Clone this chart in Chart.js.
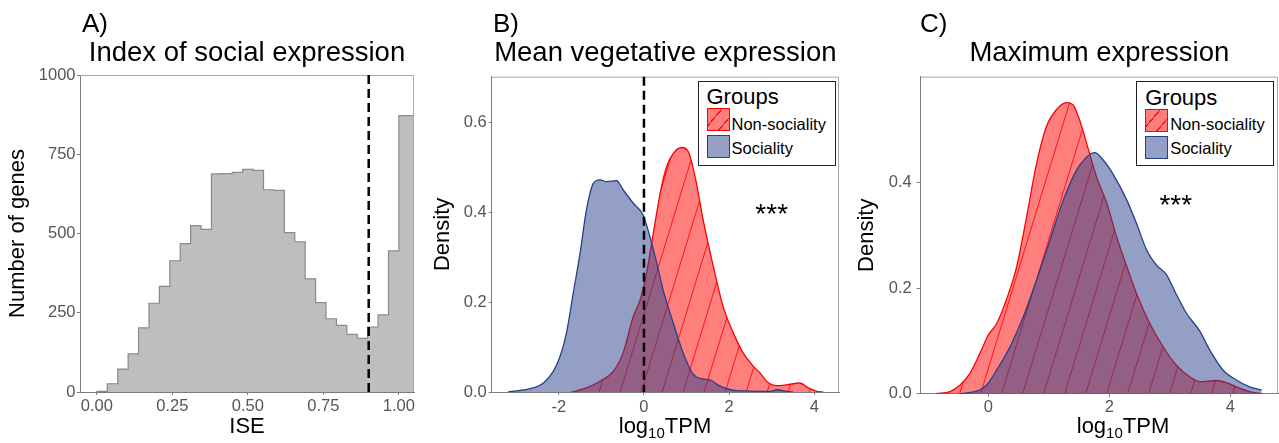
<!DOCTYPE html>
<html><head><meta charset="utf-8">
<script src="https://cdn.jsdelivr.net/npm/chart.js@4.4.1/dist/chart.umd.min.js"></script>
<style>
html,body{margin:0;padding:0;background:#fff;overflow:hidden;width:1279px;height:443px;}
body{position:relative;font-family:'Liberation Sans',Arial,Helvetica,sans-serif;}
canvas{position:absolute;top:0;}
.t{position:absolute;line-height:1;white-space:nowrap;color:#000;}
.box{position:absolute;border:1.5px solid #222;background:#fff;box-sizing:border-box;}
.sw{position:absolute;box-sizing:border-box;}
.swr{border:1px solid #ff0000;background:repeating-linear-gradient(130deg, rgba(255,0,0,0.5) 0px, rgba(255,0,0,0.5) 10px, rgba(255,0,0,0.95) 10px, rgba(255,0,0,0.95) 11.2px);}
.swb{border:1px solid #27408B;background:rgba(39,64,139,0.5);}
</style></head><body>
<canvas id="cA" width="420" height="443" style="left:0px"></canvas>
<canvas id="cB" width="420" height="443" style="left:425px"></canvas>
<canvas id="cC" width="431" height="443" style="left:849px"></canvas>

<div class="t" style="left:82px;top:10px;font-size:26px">A)</div>
<div class="t" style="left:493px;top:10px;font-size:26px">B)</div>
<div class="t" style="left:920px;top:10px;font-size:26px">C)</div>

<div class="t" style="left:565px;top:414.9px;width:200px;text-align:center;font-size:22px;line-height:22px">log<span style="font-size:15px;position:relative;top:5px">10</span>TPM</div>
<div class="t" style="left:1023px;top:414.9px;width:200px;text-align:center;font-size:22px;line-height:22px">log<span style="font-size:15px;position:relative;top:5px">10</span>TPM</div>

<div class="box" style="left:697.5px;top:80.5px;width:138px;height:85px"></div>
<div class="t" style="left:706.5px;top:86.4px;font-size:22px">Groups</div>
<div class="sw swr" style="left:706.5px;top:108px;width:23px;height:23px"></div>
<div class="sw swb" style="left:706.5px;top:135px;width:23px;height:23px"></div>
<div class="t" style="left:731.5px;top:115.5px;font-size:16.5px">Non-sociality</div>
<div class="t" style="left:731.5px;top:139.5px;font-size:16.5px">Sociality</div>

<div class="box" style="left:1136.2px;top:81.2px;width:138px;height:85px"></div>
<div class="t" style="left:1145.2px;top:87.1px;font-size:22px">Groups</div>
<div class="sw swr" style="left:1145.2px;top:108.7px;width:23px;height:23px"></div>
<div class="sw swb" style="left:1145.2px;top:135.7px;width:23px;height:23px"></div>
<div class="t" style="left:1170.2px;top:116.2px;font-size:16.5px">Non-sociality</div>
<div class="t" style="left:1170.2px;top:140.2px;font-size:16.5px">Sociality</div>

<script>
// ---------- DATA ----------
// Panel A: histogram of ISE
const iseBinEdges = [0, 0.0345, 0.069, 0.1034, 0.1379, 0.1724, 0.2069, 0.2414, 0.2759, 0.3103,
  0.3448, 0.3793, 0.4138, 0.4483, 0.4828, 0.5172, 0.5517, 0.5862, 0.6207, 0.6552,
  0.6897, 0.7241, 0.7586, 0.7931, 0.8276, 0.8621, 0.8966, 0.931, 0.9655, 1.0, 1.05];
const iseCounts = [2, 26, 72, 120, 202, 280, 333, 414, 468, 525,
  513, 688, 689, 693, 702, 699, 638, 636, 503, 474,
  357, 282, 231, 210, 182, 169, 205, 243, 445, 872];
const iseThreshold = 0.9;
const ticksAx = [0, 0.25, 0.5, 0.75, 1.0];
const labelsAx = ['0.00', '0.25', '0.50', '0.75', '1.00'];
const ticksAy = [0, 250, 500, 750, 1000];
const labelsAy = ['0', '250', '500', '750', '1000'];

// Panel B: mean vegetative expression densities
const groups = ['Non-sociality', 'Sociality'];
const bNonSocX = [-1.7, -1.35, -1.03, -0.72, -0.49, -0.25, -0.09, 0.06, 0.22, 0.38, 0.53, 0.69, 0.88, 1.04, 1.2, 1.39, 1.63, 1.86, 2.1, 2.33, 2.57, 2.73, 2.88, 3.12, 3.35, 3.66, 3.86, 4.06, 4.21];
const bNonSocY = [0, 0.009, 0.024, 0.046, 0.087, 0.168, 0.205, 0.264, 0.353, 0.442, 0.501, 0.531, 0.544, 0.535, 0.479, 0.383, 0.279, 0.19, 0.131, 0.087, 0.057, 0.042, 0.024, 0.014, 0.016, 0.02, 0.009, 0.0015, 0];
const bSocX = [-3.19, -2.6, -2.36, -2.13, -1.97, -1.82, -1.66, -1.5, -1.35, -1.19, -1.03, -0.88, -0.64, -0.49, -0.25, -0.02, 0.14, 0.3, 0.45, 0.69, 0.92, 1.16, 1.39, 1.55, 1.79, 2.18, 2.96, 3.12, 3.35, 3.5];
const bSocY = [0, 0.009, 0.02, 0.046, 0.079, 0.131, 0.22, 0.309, 0.405, 0.464, 0.472, 0.468, 0.47, 0.45, 0.42, 0.394, 0.346, 0.287, 0.227, 0.153, 0.087, 0.039, 0.029, 0.027, 0.013, 0.003, 0.0015, 0.005, 0.0015, 0];
const ticksBx = [-2, 0, 2, 4];
const labelsBx = ['-2', '0', '2', '4'];
const ticksBy = [0, 0.2, 0.4, 0.6];
const labelsBy = ['0.0', '0.2', '0.4', '0.6'];

// Panel C: maximum expression densities
const cNonSocX = [-0.865, -0.63, -0.47, -0.3, -0.14, 0, 0.14, 0.3, 0.47, 0.63, 0.8, 0.96, 1.13, 1.29, 1.4, 1.51, 1.65, 1.79, 1.96, 2.12, 2.29, 2.45, 2.67, 2.89, 3.11, 3.33, 3.5, 3.77, 3.94, 4.16, 4.32, 4.52];
const cNonSocY = [0, 0.004, 0.016, 0.039, 0.076, 0.111, 0.133, 0.178, 0.241, 0.333, 0.437, 0.506, 0.539, 0.552, 0.548, 0.519, 0.465, 0.411, 0.361, 0.298, 0.241, 0.19, 0.133, 0.089, 0.054, 0.032, 0.023, 0.025, 0.021, 0.01, 0.004, 0];
const cSocX = [-0.47, -0.3, -0.14, -0.03, 0.14, 0.36, 0.58, 0.8, 1.02, 1.24, 1.46, 1.63, 1.76, 1.9, 2.07, 2.29, 2.45, 2.62, 2.78, 2.95, 3.11, 3.28, 3.5, 3.66, 3.88, 4.1, 4.32, 4.52];
const cSocY = [0, 0.0025, 0.007, 0.016, 0.045, 0.089, 0.146, 0.216, 0.291, 0.367, 0.424, 0.449, 0.457, 0.443, 0.415, 0.367, 0.323, 0.272, 0.244, 0.225, 0.188, 0.152, 0.118, 0.083, 0.045, 0.026, 0.013, 0.007];
const ticksCx = [0, 2, 4];
const labelsCx = ['0', '2', '4'];
const ticksCy = [0, 0.2, 0.4];
const labelsCy = ['0.0', '0.2', '0.4'];

const titles = ['Index of social expression', 'Mean vegetative expression', 'Maximum expression'];
const signif = '***';

// ---------- RENDER ----------
const FONT = "'Liberation Sans', Arial, Helvetica, sans-serif";
Chart.defaults.font.family = FONT;
Chart.defaults.animation = false;

const extras = {
  id: 'extras',
  afterDatasetsDraw(chart, args, opts) {
    const {ctx, chartArea: a, scales: {x, y}} = chart;
    ctx.save();
    ctx.strokeStyle = '#a8a8a8'; ctx.lineWidth = 1;
    ctx.beginPath();
    ctx.moveTo(a.left, a.top + 0.5); ctx.lineTo(a.right - 0.5, a.top + 0.5); ctx.lineTo(a.right - 0.5, a.bottom);
    ctx.stroke();
    if (opts.vline !== undefined) {
      const px = x.getPixelForValue(opts.vline);
      ctx.setLineDash([9, 5]); ctx.lineWidth = 2.5; ctx.strokeStyle = '#000';
      ctx.beginPath(); ctx.moveTo(px, a.top); ctx.lineTo(px, a.bottom); ctx.stroke();
      ctx.setLineDash([]);
    }
    if (opts.stars) {
      const fs = 28;
      ctx.font = fs + 'px ' + FONT; ctx.fillStyle = '#000';
      ctx.textAlign = 'center'; ctx.textBaseline = 'alphabetic';
      ctx.fillText(opts.stars.text, x.getPixelForValue(opts.stars.x), y.getPixelForValue(opts.stars.y) + 0.38 * fs);
    }
    ctx.restore();
  }
};

function tickSet(vals, labels) {
  return {
    afterBuildTicks: s => { s.ticks = vals.map(v => ({value: v})); },
    callback: (v, i) => labels[i]
  };
}

function axis(opts) {
  const t = tickSet(opts.ticks, opts.labels);
  return {
    type: 'linear', min: opts.min, max: opts.max,
    afterBuildTicks: t.afterBuildTicks,
    border: {display: true, color: '#7a7a7a', width: 1},
    grid: {display: true, drawOnChartArea: false, drawTicks: true, tickLength: opts.tickLength || 3, color: '#7a7a7a'},
    ticks: {padding: opts.padding, color: '#555', font: {size: 16.5}, callback: t.callback, maxRotation: 0, autoSkip: false},
    title: opts.title ? {display: true, text: opts.title, color: '#000', font: {size: 22}, padding: opts.titlePad} : {display: false},
    afterFit: opts.fit
  };
}

function makeHatch(canvas) {
  const w = canvas.width, h = canvas.height;
  const off = document.createElement('canvas'); off.width = w; off.height = h;
  const g = off.getContext('2d');
  g.fillStyle = 'rgba(255,0,0,0.5)'; g.fillRect(0, 0, w, h);
  g.strokeStyle = 'rgba(255,0,0,0.85)'; g.lineWidth = 1;
  const ang = 73 * Math.PI / 180, dx = h / Math.tan(ang), sp = 21;
  g.beginPath();
  for (let x0 = -dx - sp; x0 < w + sp; x0 += sp) { g.moveTo(x0, h); g.lineTo(x0 + dx, 0); }
  g.stroke();
  return canvas.getContext('2d').createPattern(off, 'repeat');
}

function pts(xs, ys) { return xs.map((x, i) => ({x: x, y: ys[i]})); }

const TITLE_FONT = {size: 27.5, weight: 'normal'};

// Panel A
(function () {
  const data = [{x: iseBinEdges[0], y: 0}];
  for (let i = 0; i < iseCounts.length; i++) {
    data.push({x: iseBinEdges[i], y: iseCounts[i]});
    data.push({x: iseBinEdges[i + 1], y: iseCounts[i]});
  }
  new Chart(document.getElementById('cA'), {
    type: 'line',
    data: {datasets: [{data: data, fill: 'origin', backgroundColor: '#bebebe', borderColor: '#8a8a8a', borderWidth: 1.2, pointRadius: 0, tension: 0}]},
    options: {
      responsive: false, events: [],
      layout: {padding: {left: 0, right: 6, top: 0, bottom: 0}},
      plugins: {
        legend: {display: false}, tooltip: {enabled: false},
        title: {display: true, text: titles[0], fullSize: false, color: '#000', font: TITLE_FONT, padding: {top: 37, bottom: 5}},
        extras: {vline: iseThreshold}
      },
      scales: {
        x: axis({min: -0.056, max: 1.05, ticks: ticksAx, labels: labelsAx, padding: 2, title: 'ISE', titlePad: {top: 0, bottom: 2.4}, fit: s => { s.height = 51; }}),
        y: axis({min: 0, max: 1000, ticks: ticksAy, labels: labelsAy, padding: 1.5, title: 'Number of genes', titlePad: {top: 4.9, bottom: 0}, fit: s => { s.width = 80; }})
      }
    },
    plugins: [extras]
  });
})();

function densityChart(id, cfg) {
  const canvas = document.getElementById(id);
  const hatch = makeHatch(canvas);
  new Chart(canvas, {
    type: 'line',
    data: {datasets: [
      {label: groups[1], data: pts(cfg.socX, cfg.socY), fill: 'origin', backgroundColor: 'rgba(39,64,139,0.5)', borderColor: '#27408B', borderWidth: 1.3, pointRadius: 0, cubicInterpolationMode: 'monotone'},
      {label: groups[0], data: pts(cfg.nonX, cfg.nonY), fill: 'origin', backgroundColor: hatch, borderColor: '#ff0000', borderWidth: 1.3, pointRadius: 0, cubicInterpolationMode: 'monotone'}
    ]},
    options: {
      responsive: false, events: [],
      layout: {padding: {left: 0, right: cfg.padR, top: 0, bottom: 0}},
      plugins: {
        legend: {display: false}, tooltip: {enabled: false},
        title: {display: true, text: cfg.title, fullSize: false, color: '#000', font: TITLE_FONT, padding: {top: 37, bottom: 6.7}},
        extras: cfg.extras
      },
      scales: {
        x: axis({min: cfg.xmin, max: cfg.xmax, ticks: cfg.xt, labels: cfg.xl, padding: cfg.xpad, fit: s => { s.height = cfg.xh; }}),
        y: axis({min: 0, max: cfg.ymax, ticks: cfg.yt, labels: cfg.yl, padding: cfg.ypad, tickLength: cfg.ytl, title: 'Density', titlePad: {top: 4.9, bottom: 0}, fit: s => { s.width = cfg.yw; }})
      }
    },
    plugins: [extras]
  });
}

densityChart('cB', {
  socX: bSocX, socY: bSocY, nonX: bNonSocX, nonY: bNonSocY, title: titles[1],
  xmin: -3.575, xmax: 4.58, ymax: 0.7015, xt: ticksBx, xl: labelsBx, yt: ticksBy, yl: labelsBy,
  xpad: 3, ypad: 2, ytl: 3, xh: 51, yw: 66.7, padR: 6,
  extras: {vline: 0, stars: {x: 3.0, y: 0.4, text: signif}}
});

densityChart('cC', {
  socX: cSocX, socY: cSocY, nonX: cNonSocX, nonY: cNonSocY, title: titles[2],
  xmin: -1.117, xmax: 4.79, ymax: 0.601, xt: ticksCx, xl: labelsCx, yt: ticksCy, yl: labelsCy,
  xpad: 1, ypad: 5, ytl: 4, xh: 49.3, yw: 71.7, padR: 2,
  extras: {stars: {x: 3.1, y: 0.36, text: signif}}
});
</script>
</body></html>
